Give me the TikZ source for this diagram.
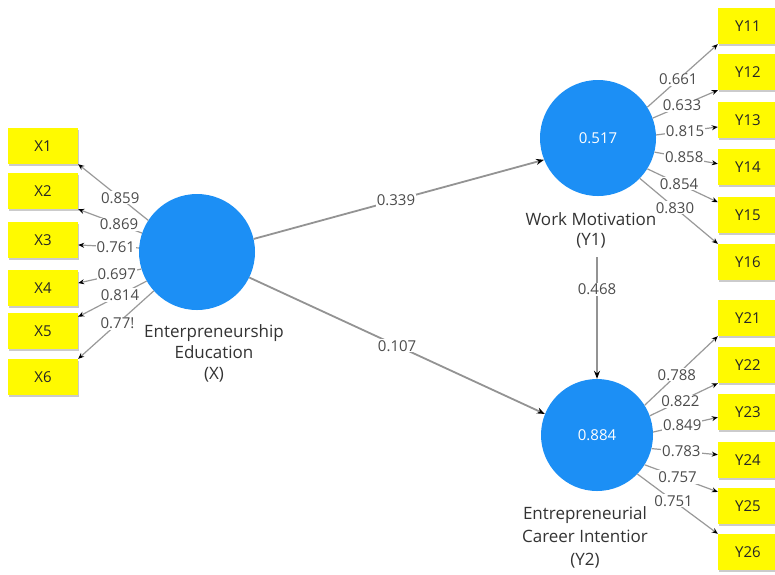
\documentclass[tikz,border=0pt]{standalone}
\usepackage{fontspec}
\setmainfont{Open Sans}
\usetikzlibrary{arrows.meta,shadows}

\definecolor{lvblue}{RGB}{28,143,245}
\definecolor{mvyellow}{RGB}{255,250,0}

\tikzset{
  latent/.style={circle, fill=lvblue, minimum size=116pt, inner sep=0pt,
    text=white, font=\fontsize{15}{17}\selectfont},
  manifest/.style={rectangle, fill=mvyellow, minimum width=60pt, minimum height=36pt,
    inner sep=0pt, text=black!85, font=\fontsize{15}{17}\selectfont,
    drop shadow={shadow xshift=1pt, shadow yshift=-1.5pt, fill=black!40}},
  lvname/.style={align=center, text=black!80, font=\fontsize{17}{21}\selectfont},
  coef/.style={fill=white, inner sep=1pt, text=black!70, font=\fontsize{15}{17}\selectfont},
  loading/.style={draw=gray!80, line width=1.2pt, -{Stealth[length=6pt,width=5pt,color=black]}},
  path/.style={draw=gray!85, line width=1.8pt, -{Stealth[length=8pt,width=6pt,color=black]}}
}

\begin{document}
\begin{tikzpicture}[x=1pt,y=-1pt]
  \useasboundingbox[fill=white] (0,0) rectangle (775,574);

  % latent variables
  \node[latent] (x) at (197,252) {};
  \node[latent] (y1) at (598,138) {0.517};
  \node[latent, minimum size=112pt] (y2) at (597,435) {0.884};
  \node[lvname] (xlab) at (214,353) {Enterpreneurship\\Education\\(X)};
  \node[lvname, font=\fontsize{17}{20}\selectfont] (y1lab) at (591,230) {Work Motivation\\(Y1)};
  \node[lvname, font=\fontsize{17}{23}\selectfont] (y2lab) at (585,537) {Entrepreneurial\\Career Intentior\\(Y2)};

  % indicators of X
  \node[manifest, minimum width=70pt] (x1) at (43,146) {X1};
  \node[manifest, minimum width=70pt] (x2) at (43,191) {X2};
  \node[manifest, minimum width=70pt] (x3) at (43,240) {X3};
  \node[manifest, minimum width=70pt] (x4) at (43,288) {X4};
  \node[manifest, minimum width=70pt] (x5) at (43,331) {X5};
  \node[manifest, minimum width=70pt] (x6) at (43,377) {X6};

  % indicators of Y1
  \node[manifest] (y11) at (748,26) {Y11};
  \node[manifest] (y12) at (748,72) {Y12};
  \node[manifest] (y13) at (748,120) {Y13};
  \node[manifest] (y14) at (748,167) {Y14};
  \node[manifest] (y15) at (748,215) {Y15};
  \node[manifest] (y16) at (748,262) {Y16};

  % indicators of Y2
  \node[manifest] (y21) at (748,318) {Y21};
  \node[manifest] (y22) at (748,365) {Y22};
  \node[manifest] (y23) at (748,412) {Y23};
  \node[manifest] (y24) at (748,460) {Y24};
  \node[manifest] (y25) at (748,506) {Y25};
  \node[manifest] (y26) at (748,552) {Y26};

  % outer loadings
  \draw[loading] (x.147) -- node[coef, pos=0.4] {0.859} (x1.south east);
  \draw[loading] (x.161) -- node[coef, pos=0.36] {0.869} (x2.south east);
  \draw[loading] (x.176) -- node[coef, pos=0.38] {0.761} (x3.-8);
  \draw[loading] (x.197) -- node[coef, pos=0.39] {0.697} (x4.8);
  \draw[loading] (x.210) -- node[coef, pos=0.39] {0.814} (x5.22);
  \draw[loading] (x.222) -- node[coef, pos=0.48] {0.77!} (x6.north east);

  \draw[loading] (y1.32) -- node[coef, pos=0.44] {0.661} (y11.south west);
  \draw[loading] (y1.20) -- node[coef, pos=0.45] {0.633} (y12.south west);
  \draw[loading] (y1.3) -- node[coef, pos=0.47] {0.815} (y13.193);
  \draw[loading] (y1.-14) -- node[coef, pos=0.47] {0.858} (y14.174);
  \draw[loading] (y1.-32) -- node[coef, pos=0.45] {0.854} (y15.157);
  \draw[loading] (y1.-44) -- node[coef, pos=0.45] {0.830} (y16.north west);

  \draw[loading] (y2.32) -- node[coef, pos=0.44] {0.788} (y21.south west);
  \draw[loading] (y2.20) -- node[coef, pos=0.45] {0.822} (y22.south west);
  \draw[loading] (y2.3) -- node[coef, pos=0.45] {0.849} (y23.190);
  \draw[loading] (y2.-14) -- node[coef, pos=0.45] {0.783} (y24.170);
  \draw[loading] (y2.-32) -- node[coef, pos=0.45] {0.757} (y25.155);
  \draw[loading] (y2.-44) -- node[coef, pos=0.45] {0.751} (y26.north west);

  % path coefficients
  \draw[path] (x.13) -- node[coef, pos=0.49] {0.339} (y1.202);
  \draw[path] (x.-26) -- node[coef, pos=0.5] {0.107} (y2.158);
  \draw[path, shorten <=6pt] (y2 |- y1lab.south) -- node[coef, pos=0.3] {0.468} (y2.north);
\end{tikzpicture}
\end{document}
